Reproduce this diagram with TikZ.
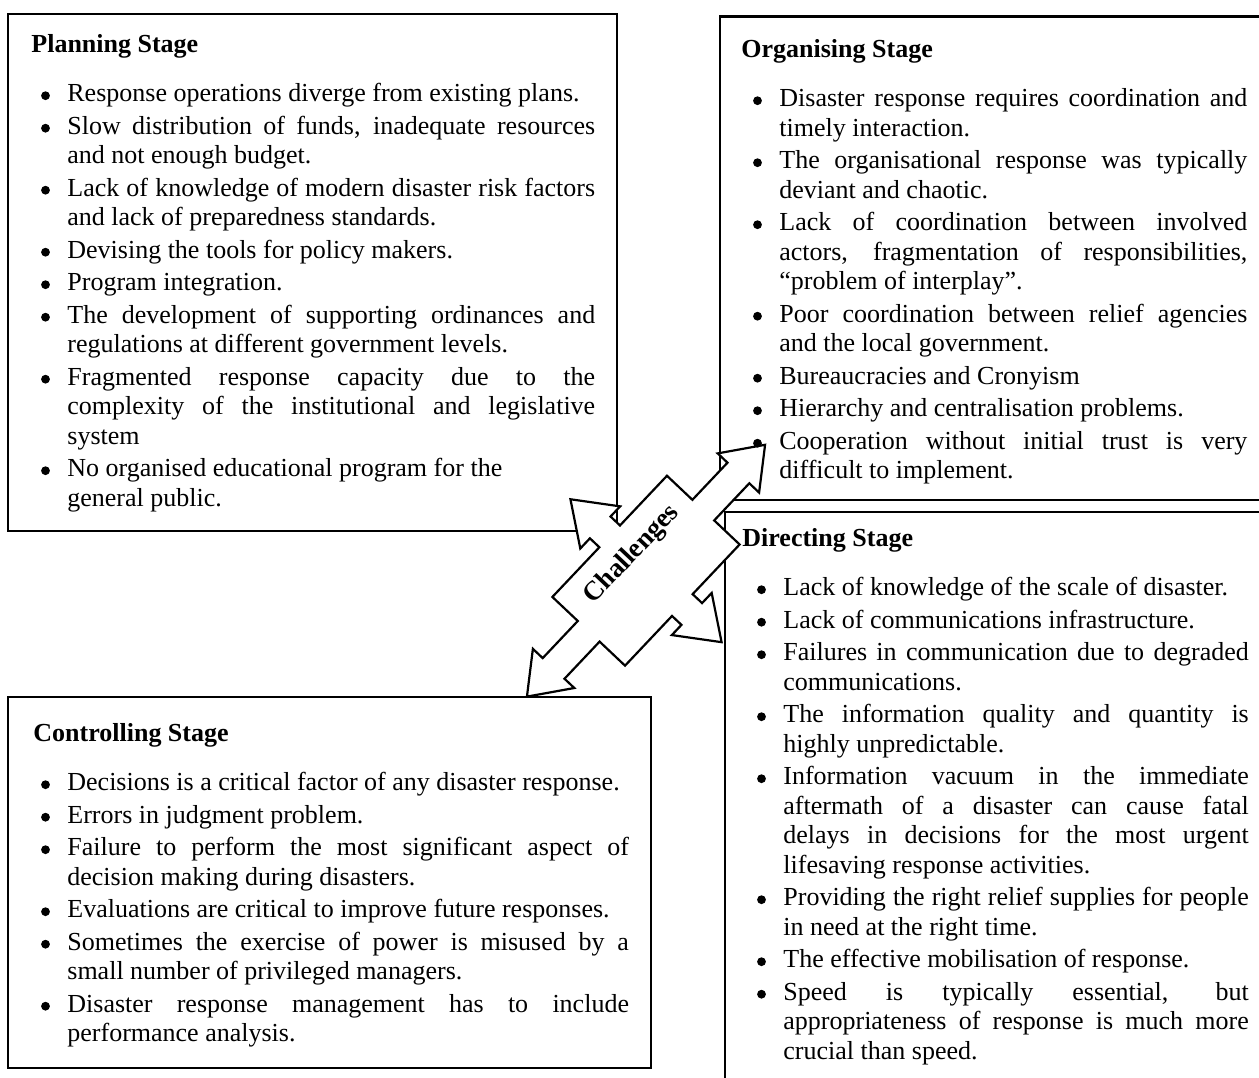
\documentclass[tikz,border=0pt]{standalone}
\usepackage{fontspec}
\setmainfont{Liberation Serif}
\tolerance=10000
\hbadness=10000
\hyphenpenalty=10000
\exhyphenpenalty=10000

% round bullet sitting on the x-height centre
\newcommand{\stagebullet}{\tikz[baseline=-2.9pt]\fill (0,0) circle (2.2pt);}

% bullet list used inside every stage frame
\newenvironment{stagelist}[1]{%
  \begin{list}{\stagebullet}{%
    \setlength{\leftmargin}{#1}%
    \setlength{\labelwidth}{5pt}%
    \setlength{\labelsep}{8.75pt}%
    \setlength{\itemindent}{0pt}%
    \setlength{\listparindent}{0pt}%
    \setlength{\itemsep}{1.5pt}%
    \setlength{\parsep}{0pt}%
    \setlength{\topsep}{0pt}%
    \setlength{\partopsep}{0pt}}}%
  {\end{list}}

\begin{document}
\begin{tikzpicture}[x=0.5pt, y=-0.5pt,
  stagebox/.style={draw=black, line width=1.2pt, fill=white},
  stagetext/.style={anchor=base west, inner sep=0pt, align=justify,
    font=\fontsize{13pt}{14.75pt}\selectfont},
  quadarrow/.style={draw=black, line width=1.1pt, fill=white, line join=miter},
  arrowlabel/.style={inner sep=0pt, transform shape,
    font=\bfseries\fontsize{13.5pt}{16pt}\selectfont}]

\useasboundingbox (0,0) rectangle (1259,1077);
\fill[white] (0,0) rectangle (1259,1077);
\clip (0,0) rectangle (1259,1077);

% stage frames
\draw[stagebox] (8,14) rectangle (617,531);
\draw[stagebox] (720,16.5) rectangle (1275,500);
\draw[stagebox] (725,512) rectangle (1275,1095);
\draw[stagebox] (8,697) rectangle (651,1068);

% four-headed "Challenges" arrow in the middle
\begin{scope}[shift={(646,570.7)}, rotate=46.6]
  \draw[quadarrow]
    (173.3,0) -- (134.5,28.5) -- (134.5,15) -- (83.4,15) -- (83.4,50)
    -- (15,50) -- (15,63) -- (29,63) -- (0,104) -- (-29,63) -- (-15,63)
    -- (-15,50) -- (-83.4,50) -- (-83.4,15) -- (-134.5,15) -- (-134.5,28.5)
    -- (-173.3,0) -- (-134.5,-28.5) -- (-134.5,-15) -- (-83.4,-15)
    -- (-83.4,-50) -- (-15,-50) -- (-15,-63) -- (-29,-63) -- (0,-104)
    -- (29,-63) -- (15,-63) -- (15,-50) -- (83.4,-50) -- (83.4,-15)
    -- (134.5,-15) -- (134.5,-28.5) -- cycle;
  \node[arrowlabel] (challenges) at (2,-21) {Challenges};
\end{scope}

% Planning
\node[stagetext, text width=281.9pt] (planning) at (31,52) {%
\textbf{Planning Stage}\par\vspace{10pt}%
\begin{stagelist}{18pt}
\item Response operations diverge from existing plans.
\item Slow distribution of funds, inadequate resources\linebreak and not enough budget.
\item Lack of knowledge of modern disaster risk factors\linebreak and lack of preparedness standards.
\item Devising the tools for policy makers.
\item Program integration.
\item The development of supporting ordinances and\linebreak regulations at different government levels.
\item Fragmented response capacity due to the\linebreak complexity of the institutional and legislative\linebreak system
\item No organised educational program for the\hfil\break general public.
\end{stagelist}};

% Organising
\node[stagetext, text width=253pt] (organising) at (741,57) {%
\textbf{Organising Stage}\par\vspace{10pt}%
\begin{stagelist}{19pt}
\item Disaster response requires coordination and\linebreak timely interaction.
\item The organisational response was typically\linebreak deviant and chaotic.
\item Lack of coordination between involved\linebreak actors, fragmentation of responsibilities,\linebreak “problem of interplay”.
\item Poor coordination between relief agencies\linebreak and the local government.
\item Bureaucracies and Cronyism
\item Hierarchy and centralisation problems.
\item Cooperation without initial trust is very\linebreak difficult to implement.
\end{stagelist}};

% Directing
\node[stagetext, text width=253.2pt] (directing) at (742,546) {%
\textbf{Directing Stage}\par\vspace{10pt}%
\begin{stagelist}{20.5pt}
\item Lack of knowledge of the scale of disaster.
\item Lack of communications infrastructure.
\item Failures in communication due to degraded\linebreak communications.
\item The information quality and quantity is\linebreak highly unpredictable.
\item Information vacuum in the immediate\linebreak aftermath of a disaster can cause fatal\linebreak delays in decisions for the most urgent\linebreak lifesaving response activities.
\item Providing the right relief supplies for people\linebreak in need at the right time.
\item The effective mobilisation of response.
\item Speed is typically essential, but\linebreak appropriateness of response is much more\linebreak crucial than speed.
\end{stagelist}};

% Controlling
\node[stagetext, text width=297.8pt] (controlling) at (33,741) {%
\textbf{Controlling Stage}\par\vspace{10pt}%
\begin{stagelist}{17pt}
\item Decisions is a critical factor of any disaster response.
\item Errors in judgment problem.
\item Failure to perform the most significant aspect of\linebreak decision making during disasters.
\item Evaluations are critical to improve future responses.
\item Sometimes the exercise of power is misused by a\linebreak small number of privileged managers.
\item Disaster response management has to include\linebreak performance analysis.
\end{stagelist}};

\end{tikzpicture}
\end{document}
